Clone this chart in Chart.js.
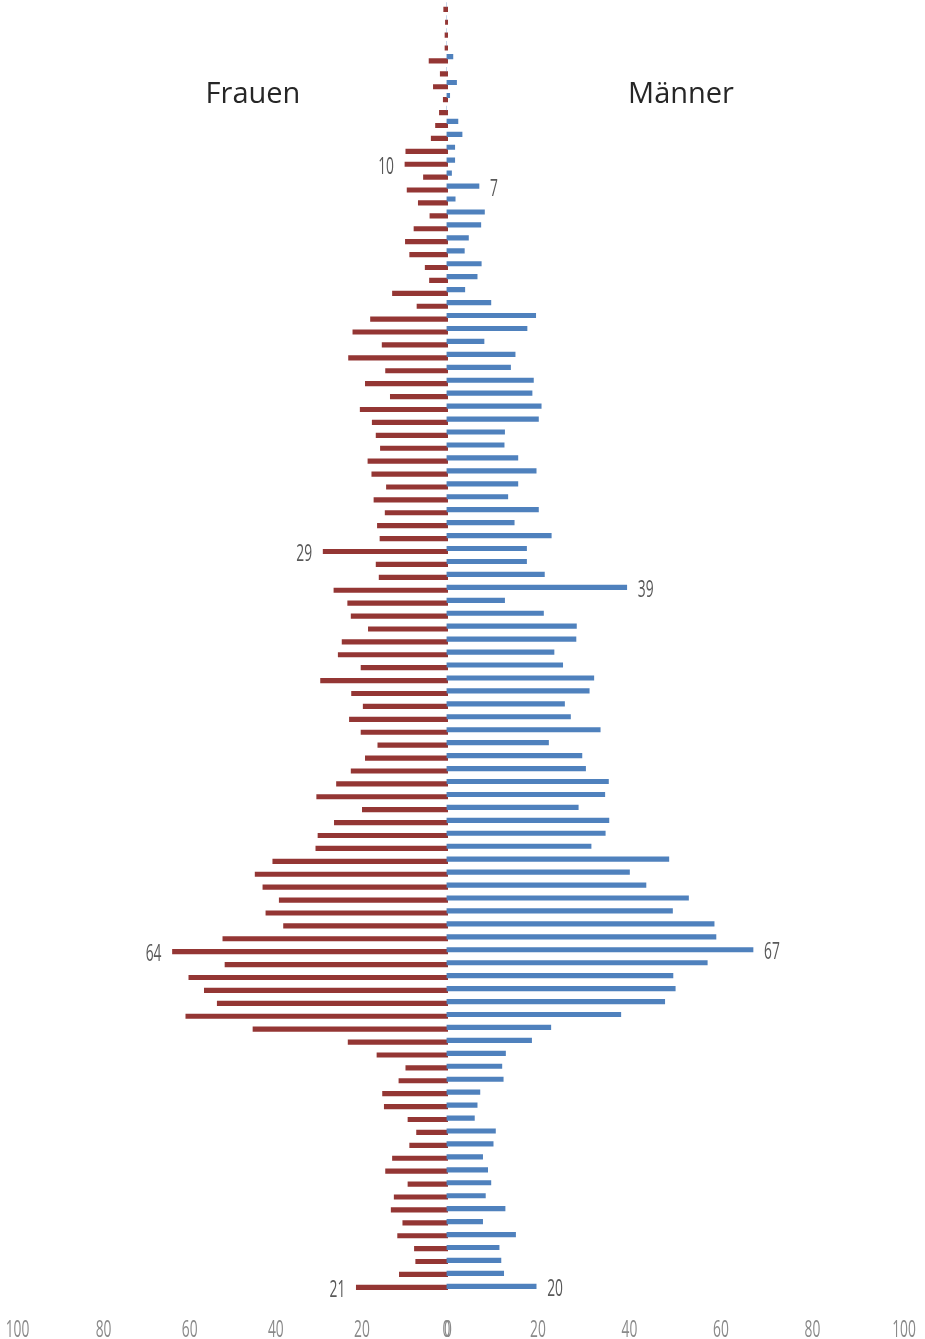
<!DOCTYPE html>
<html>
<head>
<meta charset="utf-8">
<title>Bevölkerungspyramide</title>
<script src="https://cdn.jsdelivr.net/npm/chart.js@4.4.1/dist/chart.umd.min.js"></script>
<style>
  html, body { margin: 0; padding: 0; background: #ffffff; }
  #wrap { position: relative; width: 925px; height: 1339px; overflow: hidden; }
  canvas { position: absolute; }
  #women-chart { left: 0px; top: 0px; }
  #men-chart { left: 425px; top: -4px; }
  .side-title {
    position: absolute; top: 72px; width: 240px; text-align: center;
    font-family: "Open Sans", sans-serif; font-size: 29px; color: #262626;
  }
</style>
</head>
<body>
<div id="wrap">
  <canvas id="women-chart" width="470" height="1339"></canvas>
  <canvas id="men-chart" width="500" height="1343"></canvas>
  <div class="side-title" style="left: 133px;">Frauen</div>
  <div class="side-title" style="left: 561px;">Männer</div>
</div>
<script>
// Age groups, 0 at the bottom up to 99 at the top
const ages = Array.from({ length: 100 }, (_, i) => String(i));

// Women per age (0..99)
const women = [
    21.3, 11.3, 7.5, 7.8, 11.7, 10.5, 13.2, 12.5, 9.3, 14.5,
    12.9, 8.9, 7.3, 9.3, 14.8, 15.2, 11.4, 9.8, 16.5, 23.2,
    45.3, 60.9, 53.6, 56.6, 60.2, 51.8, 64.0, 52.3, 38.2, 42.3,
    39.2, 43.0, 44.8, 40.7, 30.7, 30.2, 26.4, 19.9, 30.5, 25.9,
    22.5, 19.2, 16.3, 20.2, 22.9, 19.7, 22.4, 29.6, 20.2, 25.5,
    24.6, 18.5, 22.5, 23.3, 26.5, 16.0, 16.7, 29.0, 15.8, 16.4,
    14.6, 17.2, 14.3, 17.7, 18.6, 15.7, 16.7, 17.6, 20.4, 13.4,
    19.2, 14.5, 23.1, 15.3, 22.1, 18.0, 7.2, 12.9, 4.3, 5.3,
    8.9, 9.9, 7.9, 4.2, 6.9, 9.5, 5.7, 10.0, 9.8, 3.9,
    2.9, 2.0, 1.1, 3.4, 1.8, 4.4, 0.7, 0.7, 0.6, 1.0,
];

// Men per age (0..99)
const men = [
    19.6, 12.5, 11.9, 11.5, 15.1, 7.9, 12.8, 8.5, 9.7, 9.0,
    7.9, 10.2, 10.7, 6.1, 6.7, 7.3, 12.4, 12.1, 12.9, 18.6,
    22.8, 38.1, 47.7, 50.0, 49.5, 57.0, 67.0, 58.9, 58.5, 49.4,
    52.9, 43.6, 40.0, 48.6, 31.6, 34.7, 35.5, 28.8, 34.6, 35.4,
    30.4, 29.6, 22.3, 33.6, 27.1, 25.8, 31.2, 32.2, 25.4, 23.5,
    28.3, 28.4, 21.2, 12.7, 39.4, 21.4, 17.5, 17.5, 22.9, 14.8,
    20.1, 13.4, 15.6, 19.6, 15.6, 12.6, 12.7, 20.1, 20.7, 18.7,
    19.0, 14.0, 15.0, 8.2, 17.6, 19.5, 9.7, 4.0, 6.7, 7.6,
    3.9, 4.8, 7.5, 8.3, 1.9, 7.1, 1.1, 1.8, 1.8, 3.4,
    2.5, 0, 0.7, 2.2, 0, 1.4, 0, 0, 0, 0,
];

// Ages whose bar carries a value label
const womenLabelled = [0, 26, 57, 87];
const menLabelled = [0, 26, 54, 85];

// Axis tick values
const tickValues = [0, 20, 40, 60, 80, 100];

// Text in the picture is tall and narrow, so squeeze it horizontally
const squeeze = 0.6;
const numFont = '23px "Open Sans", sans-serif';

const drawSqueezed = (ctx, text, x, y, align, color) => {
    ctx.save();
    ctx.translate(x, y);
    ctx.scale(squeeze, 1);
    ctx.font = numFont;
    ctx.fillStyle = color;
    ctx.textAlign = align;
    ctx.textBaseline = "alphabetic";
    ctx.fillText(text, 0, 0);
    ctx.restore();
};

// Draws the axis numbers and the few value labels
const pyramidText = {
    id: "pyramidText",
    afterDraw(chart, args, opts) {
        const ctx = chart.ctx;
        const xScale = chart.scales.x;
        xScale.ticks.forEach((t) => {
            drawSqueezed(ctx, String(t.value), xScale.getPixelForValue(t.value), opts.tickBaseline, "center", "#8a8a8a");
        });
        const meta = chart.getDatasetMeta(0);
        const values = chart.data.datasets[0].data;
        opts.labelled.forEach((age) => {
            const bar = meta.data[age];
            const text = String(Math.round(values[age]));
            if (opts.side === "left") {
                drawSqueezed(ctx, text, bar.x - 11, bar.y + 9.5, "right", "#595959");
            } else {
                drawSqueezed(ctx, text, bar.x + 11, bar.y + 9.5, "left", "#595959");
            }
        });
    },
};

const makeChart = (canvas, values, color, cfg) => new Chart(canvas, {
    type: "bar",
    plugins: [pyramidText],
    data: {
        labels: ages,
        datasets: [
            {
                data: values,
                backgroundColor: color,
                borderWidth: 0,
                barThickness: 4.5,
            },
        ],
    },
    options: {
        indexAxis: "y",
        responsive: false,
        devicePixelRatio: 1,
        animation: false,
        layout: { padding: cfg.padding },
        scales: {
            x: {
                type: "linear",
                reverse: cfg.side === "left",
                min: 0,
                max: 100,
                grid: { display: false },
                border: { display: false },
                ticks: { display: false },
                afterBuildTicks: (scale) => {
                    scale.ticks = tickValues.map((v) => ({ value: v }));
                },
                afterFit: (scale) => {
                    scale.height = cfg.axisHeight;
                },
            },
            y: {
                type: "category",
                reverse: true,
                display: false,
            },
        },
        plugins: {
            legend: { display: false },
            tooltip: { enabled: false },
            pyramidText: {
                side: cfg.side,
                labelled: cfg.labelled,
                tickBaseline: cfg.tickBaseline,
            },
        },
    },
});

// Women on the left, men on the right, as two charts side by side
makeChart(document.getElementById("women-chart"), women, "#943634", {
    side: "left",
    labelled: womenLabelled,
    padding: { top: 2.85, left: 17.5, right: 22, bottom: 0 },
    axisHeight: 45.2,
    tickBaseline: 1337,
});

makeChart(document.getElementById("men-chart"), men, "#4F81BD", {
    side: "right",
    labelled: menLabelled,
    padding: { top: 2.4, left: 21.5, right: 21, bottom: 0 },
    axisHeight: 46.2,
    tickBaseline: 1341,
});
</script>
</body>
</html>
